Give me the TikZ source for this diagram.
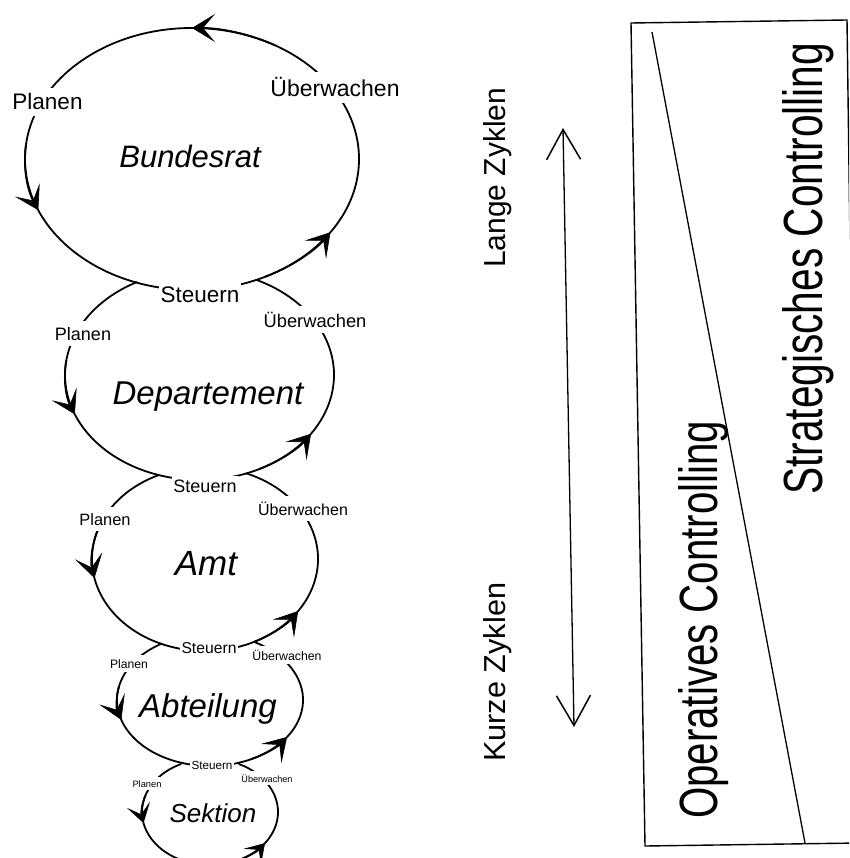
\documentclass[tikz,border=0pt]{standalone}
\usepackage{graphicx}
\usepackage{fontspec}
\setmainfont{Liberation Sans}
\usetikzlibrary{arrows.meta}
\tikzset{
  ring/.style={line width=1.8pt},
  ringtipstyle/.style={line width=1.8pt, -{Stealth[length=23pt,width=28pt,inset=12pt,line width=0.6pt]}},
  smalltipstyle/.style={line width=1.8pt, -{Stealth[length=19pt,width=24pt,inset=10pt,line width=0.6pt]}},
  lbl/.style={fill=white, anchor=base, inner xsep=3pt, inner ysep=6pt},
  stlbl/.style={fill=white, anchor=base, inner xsep=1.5pt, inner ysep=3pt},
  unitname/.style={anchor=base, inner sep=0pt},
  rot/.style={rotate=90, anchor=base west, inner sep=0pt},
  boxline/.style={line width=1.4pt},
  dblarrow/.style={line width=1.3pt, {Straight Barb[length=30pt,width=34pt,line width=1.5pt]}-{Straight Barb[length=30pt,width=34pt,line width=1.5pt]}}
}
\newcommand{\fs}[1]{\fontsize{#1}{#1}\selectfont}
\newcommand{\ringarc}[6]{\draw[ring] ([shift={(#1,#2)}]#5:#3 and #4) arc[start angle=#5, end angle=#6, x radius=#3, y radius=#4];}
\newcommand{\ringtip}[6][ringtipstyle]{\draw[#1] ([shift={(#2,#3)}]#6+30:#4 and #5) arc[start angle=#6+30, end angle=#6, x radius=#4, y radius=#5];}
\begin{document}
\begin{tikzpicture}[x=1pt,y=-1pt]
\useasboundingbox (0,0) rectangle (849,858);
\clip (0,0) rectangle (849,858);
% Bundesrat
\ringarc{192}{159}{167}{131}{360}{0}
\ringtip{192}{159}{167}{131}{270}
\ringtip{192}{159}{167}{131}{157}
\ringtip{192}{159}{167}{131}{34}
% Departement
\ringarc{199.5}{375}{134.5}{105}{242.3}{-64.9}
\ringtip{199.5}{375}{134.5}{105}{158}
\ringtip{199.5}{375}{134.5}{105}{34}
% Amt
\ringarc{205}{559}{113}{92}{246}{-68.7}
\ringtip{205}{559}{113}{92}{168}
\ringtip{205}{559}{113}{92}{34.5}
% Abteilung
\ringarc{210}{700}{93}{66}{238.9}{-61}
\ringtip{210}{700}{93}{66}{162.5}
\ringtip{210}{700}{93}{66}{34}
% Sektion
\ringarc{210}{812}{68}{53}{245}{-65}
\ringtip[smalltipstyle]{210}{812}{68}{53}{168}
\ringtip[smalltipstyle]{210}{812}{68}{53}{36}

% labels
\node[lbl, font=\fs{22.5}] (p1) at (47.5,110) {Planen};
\node[lbl, font=\fs{23}] (u1) at (335,97) {Überwachen};
\node[stlbl, font=\fs{22.5}] (s1) at (200,302) {Steuern};
\node[lbl, font=\fs{18}] (p2) at (83,340) {Planen};
\node[lbl, font=\fs{18.3}] (u2) at (315,327) {Überwachen};
\node[stlbl, font=\fs{18}] (s2) at (205,492) {Steuern};
\node[lbl, font=\fs{16.4}] (p3) at (105,525) {Planen};
\node[lbl, font=\fs{16}] (u3) at (303,515) {Überwachen};
\node[stlbl, font=\fs{15.7}] (s3) at (209,653) {Steuern};
\node[lbl, inner ysep=4pt, font=\fs{12.2}] (p4) at (129,668) {Planen};
\node[lbl, inner ysep=4pt, font=\fs{12.3}] (u4) at (287,660) {Überwachen};
\node[stlbl, font=\fs{11.7}] (s4) at (212,769) {Steuern};
\node[lbl, inner ysep=3pt, font=\fs{9.3}] (p5) at (147,787) {Planen};
\node[lbl, inner ysep=3pt, font=\fs{9.1}] (u5) at (267,782) {Überwachen};

% unit names
\node[unitname, font=\itshape\fs{31}] (n1) at (190,168) {Bundesrat};
\node[unitname, font=\itshape\fs{33}] (n2) at (208,404) {Departement};
\node[unitname, font=\itshape\fs{35}] (n3) at (206,575) {Amt};
\node[unitname, font=\itshape\fs{33}] (n4) at (208,717) {Abteilung};
\node[unitname, font=\itshape\fs{26}] (n5) at (213,822) {Sektion};

% right side
\node[rot] (lang) at (505,268) {\resizebox{180pt}{22pt}{\fs{30}Lange Zyklen}};
\node[rot] (kurz) at (505,762) {\resizebox{179pt}{22pt}{\fs{30}Kurze Zyklen}};
\coordinate (up) at (563,128);
\coordinate (down) at (574,727);
\draw[dblarrow] (down) -- (up);

\coordinate (boxTL) at (631,23);
\coordinate (boxTR) at (847,20);
\coordinate (boxBR) at (858,843);
\coordinate (boxBL) at (645,846);
\draw[boxline] (boxTL) -- (boxTR) -- (boxBR) -- (boxBL) -- cycle;
\coordinate (diagA) at (652,32);
\coordinate (diagB) at (805,843);
\draw[line width=1.3pt] (diagA) -- (diagB);

\node[rot] (oper) at (717,819) {\resizebox{398pt}{39pt}{\fs{55}Operatives Controlling}};
\node[rot] (strat) at (822,495) {\resizebox{452pt}{40pt}{\fs{56}Strategisches Controlling}};
\end{tikzpicture}
\end{document}
